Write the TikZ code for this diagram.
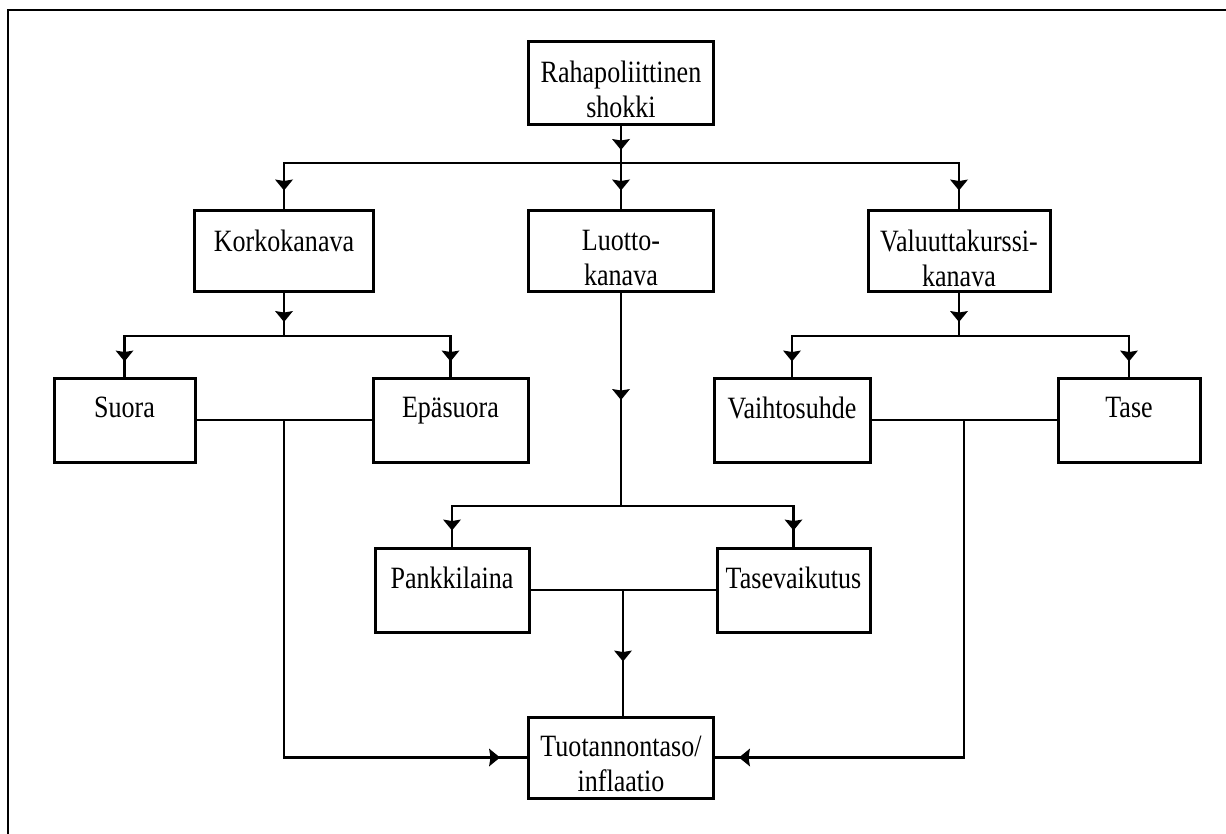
\documentclass[tikz,border=0pt]{standalone}
\usepackage{fontspec}
\setmainfont{Liberation Serif}[FakeStretch=0.84]
\usetikzlibrary{decorations.markings,calc}
\begin{document}
\begin{tikzpicture}[x=1pt,y=-1pt,line width=2.8pt,
  box/.style={draw,line width=3pt,inner sep=0pt},
  lbl/.style={anchor=north,inner sep=0pt,align=center,font=\fontsize{31}{35}\selectfont},
  marr/.style={postaction={decorate},decoration={markings,mark=at position #1 with {\fill (-11pt,-9pt) -- (0pt,0pt) -- (-11pt,9pt) -- (-9.5pt,0pt) -- cycle;}}}
]
\useasboundingbox (0,0) rectangle (1226,834);
\draw[line width=2.4pt] (8,834) -- (8,10) -- (1226,10);

% boxes
\node[box,minimum width=185pt,minimum height=83pt] (rah) at (621,83.5) {};
\node[box,minimum width=179pt,minimum height=81pt] (korko) at (284,251.5) {};
\node[box,minimum width=185pt,minimum height=81pt] (luotto) at (621,251.5) {};
\node[box,minimum width=182pt,minimum height=81pt] (val) at (959,251.5) {};
\node[box,minimum width=141pt,minimum height=84pt] (suora) at (124.5,420) {};
\node[box,minimum width=155pt,minimum height=84pt] (epa) at (450.5,420) {};
\node[box,minimum width=156pt,minimum height=84pt] (vaihto) at (792,420) {};
\node[box,minimum width=142pt,minimum height=84pt] (tase) at (1129,420) {};
\node[box,minimum width=154pt,minimum height=84pt] (pankki) at (452,590) {};
\node[box,minimum width=153pt,minimum height=84pt] (tasev) at (793.5,590) {};
\node[box,minimum width=185pt,minimum height=81pt] (tuot) at (621,757.5) {};

% labels
\node[lbl] (trah) at ([yshift=-19.5pt]rah.north) {Rahapoliittinen\\shokki};
\node[lbl] (tkorko) at ([yshift=-19.5pt]korko.north) {Korkokanava};
\node[lbl] (tluotto) at ([yshift=-19.5pt]luotto.north) {Luotto-\\kanava};
\node[lbl] (tval) at ([yshift=-19.5pt]val.north) {Valuuttakurssi-\\kanava};
\node[lbl] (tsuora) at ([yshift=-19.5pt]suora.north) {Suora};
\node[lbl] (tepa) at ([yshift=-19.5pt]epa.north) {Epäsuora};
\node[lbl] (tvaihto) at ([yshift=-19.5pt]vaihto.north) {Vaihtosuhde};
\node[lbl] (ttase) at ([yshift=-19.5pt]tase.north) {Tase};
\node[lbl] (tpankki) at ([yshift=-19.5pt]pankki.north) {Pankkilaina};
\node[lbl] (ttasev) at ([yshift=-19.5pt]tasev.north) {Tasevaikutus};
\node[lbl] (ttuot) at ([yshift=-19.5pt]tuot.north) {Tuotannontaso/\\inflaatio};

% split points
\coordinate (s1) at (621,163);
\coordinate (s2) at (284,336);
\coordinate (s3) at (959,336);
\coordinate (s4) at (621,506);
\coordinate (jl) at ($(suora.east)!0.5!(epa.west)$);
\coordinate (jr) at ($(vaihto.east)!0.5!(tase.west)$);
\coordinate (jm) at ($(pankki.east)!0.5!(tasev.west)$);

% connectors
\draw[marr=-13pt] (rah.south) -- (s1);
\draw[marr=-19pt] (s1) -| (korko.north);
\draw[marr=-19pt] (s1) -- (luotto.north);
\draw[marr=-19pt] (s1) -| (val.north);

\draw[marr=-14pt] (korko.south) -- (s2);
\draw[marr=-15pt] (s2) -| (suora.north);
\draw[marr=-15pt] (s2) -| (epa.north);

\draw[marr=-14pt] (val.south) -- (s3);
\draw[marr=-15pt] (s3) -| (vaihto.north);
\draw[marr=-15pt] (s3) -| (tase.north);

\draw[marr=-106pt] (luotto.south) -- (s4);
\draw[marr=-16pt] (s4) -| (pankki.north);
\draw[marr=-16pt] (s4) -| (tasev.north);

\draw (suora.east) -- (epa.west);
\draw (vaihto.east) -- (tase.west);
\draw (pankki.east) -- (tasev.west);

\draw[marr=-27pt] (jl) |- (tuot.west);
\draw[marr=-24pt] (jr) |- (tuot.east);
\draw[marr=-54pt] (jm) -- (jm |- tuot.north);
\end{tikzpicture}
\end{document}
